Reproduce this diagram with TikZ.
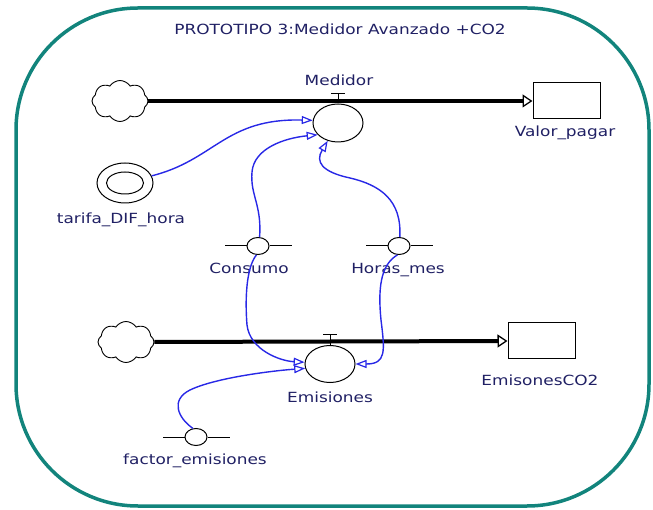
\documentclass[tikz,border=0pt]{standalone}
\usepackage{fontspec}
\setmainfont{DejaVu Sans}[FakeStretch=1.21]
\usetikzlibrary{arrows.meta,shapes.symbols,shapes.geometric}
\definecolor{frameteal}{RGB}{18,132,124}
\definecolor{labelnavy}{RGB}{32,32,100}
\definecolor{linkblue}{RGB}{40,40,230}
\tikzset{
  lbl/.style={text=labelnavy,font=\fontsize{14}{16}\selectfont,inner sep=0pt,anchor=base},
  source/.style={draw,cloud,cloud puffs=8,cloud puff arc=115,aspect=1.35,
    minimum width=56pt,minimum height=41pt,inner sep=0pt,line width=0.9pt},
  stockbox/.style={draw,rectangle,minimum width=67pt,minimum height=36pt,inner sep=0pt,line width=1pt},
  valve/.style={draw,ellipse,fill=white,minimum width=50pt,minimum height=38pt,inner sep=0pt,line width=1pt},
  auxvar/.style={draw,ellipse,fill=white,minimum width=22pt,minimum height=17pt,inner sep=0pt,line width=1pt},
  constvar/.style={draw,ellipse,minimum width=56pt,minimum height=40pt,inner sep=0pt,line width=1pt},
  flowline/.style={line width=4pt,-{Triangle[open,length=10pt,width=13pt,line width=1.3pt]}},
  link/.style={draw=linkblue,line width=1.4pt,-{Triangle[open,length=11pt,width=8pt,line width=1.2pt]}},
}
\begin{document}
\begin{tikzpicture}[x=1pt,y=-1pt]
\useasboundingbox (0,0) rectangle (653,510);

% outer frame
\draw[frameteal,line width=3.5pt,rounded corners=122pt] (16,8) rectangle (649,506);

% title
\node[lbl] (title) at (340,35) {PROTOTIPO 3:Medidor Avanzado +CO2};

% --- payment flow ---
\node[source] (cloudA) at (120,101) {};
\node[stockbox] (pagar) at (566.5,101) {};
\node[lbl] (pagarlbl) at (565,137) {Valor\_pagar};
\draw[flowline] (cloudA.east) -- (pagar.west);
\node[valve] (medidor) at (338,123) {};
\draw[line width=1pt] (medidor.north) -- ++(0,-10) coordinate (medT);
\draw[line width=1pt] ([xshift=-7pt]medT) -- ([xshift=7pt]medT);
\node[lbl] (medlbl) at (339,86) {Medidor};

% --- emissions flow ---
\node[source] (cloudB) at (126,342) {};
\node[stockbox] (emco) at (541.5,341) {};
\node[lbl] (emcolbl) at (540,385) {EmisonesCO2};
\draw[flowline] (cloudB.east) -- (emco.west);
\node[valve,minimum height=37pt] (emis) at (330,364) {};
\draw[line width=1pt] (emis.north) -- ++(0,-10) coordinate (emT);
\draw[line width=1pt] ([xshift=-7pt]emT) -- ([xshift=7pt]emT);
\node[lbl] (emislbl) at (330,402) {Emisiones};

% --- constant ---
\node[constvar] (tarifa) at (125,183) {};
\draw[line width=1pt] (tarifa.center) ellipse (18.5 and 11);
\node[lbl] (tarifalbl) at (121,224) {tarifa\_DIF\_hora};

% --- auxiliaries ---
\node[auxvar] (cons) at (258,246) {};
\draw[line width=1pt] (cons.west) -- ++(-22,0);
\draw[line width=1pt] (cons.east) -- ++(22,0);
\node[lbl] (conslbl) at (249,274) {Consumo};

\node[auxvar] (horas) at (399,246) {};
\draw[line width=1pt] (horas.west) -- ++(-22,0);
\draw[line width=1pt] (horas.east) -- ++(22,0);
\node[lbl] (horaslbl) at (398,274) {Horas\_mes};

\node[auxvar] (factor) at (196,437) {};
\draw[line width=1pt] (factor.west) -- ++(-22,0);
\draw[line width=1pt] (factor.east) -- ++(22,0);
\node[lbl] (factorlbl) at (195,464) {factor\_emisiones};

% --- information links ---
\draw[link] (tarifa.15) .. controls (215,160) and (225,118) .. (medidor.174);
\draw[link] (cons.80) .. controls (262,205) and (250,195) .. (252,172)
  .. controls (254,148) and (285,138) .. (medidor.210);
\draw[link] (horas.85) .. controls (402,200) and (380,185) .. (350,178)
  .. controls (322,172) and (315,162) .. (medidor.240);
\draw[link] (cons.260) .. controls (246,268) and (245,300) .. (247,325)
  .. controls (250,350) and (280,361) .. (emis.176);
\draw[link] (horas.260) .. controls (380,265) and (378,290) .. (381,320)
  .. controls (385,352) and (386,364) .. (emis.east);
\draw[link] (factor.110) .. controls (178,418) and (170,400) .. (190,390)
  .. controls (215,378) and (270,371) .. (emis.190);
\end{tikzpicture}
\end{document}
